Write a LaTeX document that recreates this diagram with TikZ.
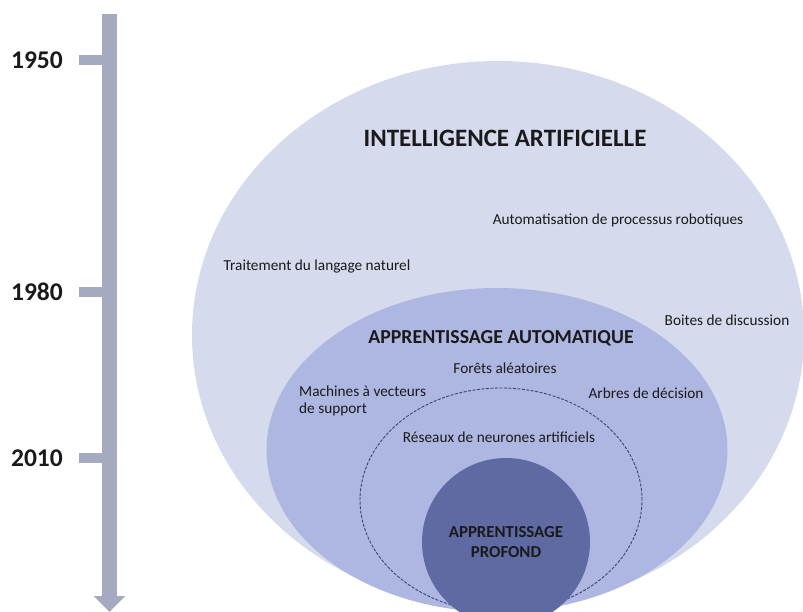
\documentclass[tikz,border=0pt]{standalone}
\usepackage{fontspec}
\setmainfont{Carlito}
\usetikzlibrary{shapes.geometric,arrows.meta}
\definecolor{iacol}{HTML}{D6DAED}
\definecolor{aacol}{HTML}{AEB7E1}
\definecolor{apcol}{HTML}{5E6AA1}
\definecolor{rncol}{HTML}{3C4475}
\definecolor{tlcol}{HTML}{A4AAC0}
\definecolor{txtcol}{HTML}{1A1A1A}

\begin{document}
\begin{tikzpicture}[x=1pt,y=-1pt]
\tikzstyle{zone}=[ellipse,inner sep=0pt,draw=none]
\tikzstyle{label}=[text=txtcol,font=\fontsize{15.3}{17}\selectfont,inner sep=0pt]
\tikzstyle{title}=[text=txtcol,font=\fontsize{25}{28}\selectfont\bfseries,inner sep=0pt]
\tikzstyle{year}=[text=txtcol,font=\fontsize{25.5}{28}\selectfont\bfseries,inner sep=0pt]
\tikzstyle{tick}=[draw=tlcol,line width=10pt]
\useasboundingbox (0,0) rectangle (803,612);
\clip (0,0) rectangle (803,612);
    % nested fields
    \node[zone,fill=iacol,minimum width=612pt,minimum height=548pt] (ia) at (498,335) {};
    \node[zone,fill=aacol,minimum width=461pt,minimum height=324pt] (aa) at (497,450) {};
    \node[zone,draw=rncol,line width=0.9pt,dash pattern=on 3pt off 1.5pt,
          minimum width=282pt,minimum height=224pt] (rn) at (501,500) {};
    \node[circle,fill=apcol,minimum size=168pt,inner sep=0pt,text=txtcol,align=center,
          font=\fontsize{16.8}{20}\selectfont\bfseries] (ap) at (506,542) {APPRENTISSAGE\\PROFOND};
    % labels
    \node[title] (iat) at (505,138) {INTELLIGENCE ARTIFICIELLE};
    \node[label] (rpa) at (618,220) {Automatisation de processus robotiques};
    \node[label] (tln) at (317,267) {Traitement du langage naturel};
    \node[label] (bd) at (727,320) {Boites de discussion};
    \node[title,font=\fontsize{19.8}{22}\selectfont\bfseries] (aat) at (501,338) {APPRENTISSAGE AUTOMATIQUE};
    \node[label] (fa) at (505,368) {Forêts aléatoires};
    \node[label,anchor=west,align=left] (svm) at (299,401) {Machines à vecteurs\\de support};
    \node[label] (ad) at (646,393) {Arbres de décision};
    \node[label] (rna) at (499,437) {Réseaux de neurones artificiels};
    % timeline
    \coordinate (top) at (109.5,14);
    \coordinate (bot) at (109.5,612);
    \draw[tlcol,line width=15pt,-{Triangle[width=31pt,length=16pt]}] (top) -- (bot);
    \node[year,anchor=east] (y1) at (63,60) {1950};
    \node[year,anchor=east] (y2) at (63,292) {1980};
    \node[year,anchor=east] (y3) at (63,458) {2010};
    \coordinate (k1) at (102,60);
    \coordinate (k2) at (102,292);
    \coordinate (k3) at (102,458);
    \path (y1.east) ++(16,0) coordinate (s1);
    \path (y2.east) ++(16,0) coordinate (s2);
    \path (y3.east) ++(16,0) coordinate (s3);
    \draw[tick] (s1) -- (k1);
    \draw[tick] (s2) -- (k2);
    \draw[tick] (s3) -- (k3);
\end{tikzpicture}
\end{document}
